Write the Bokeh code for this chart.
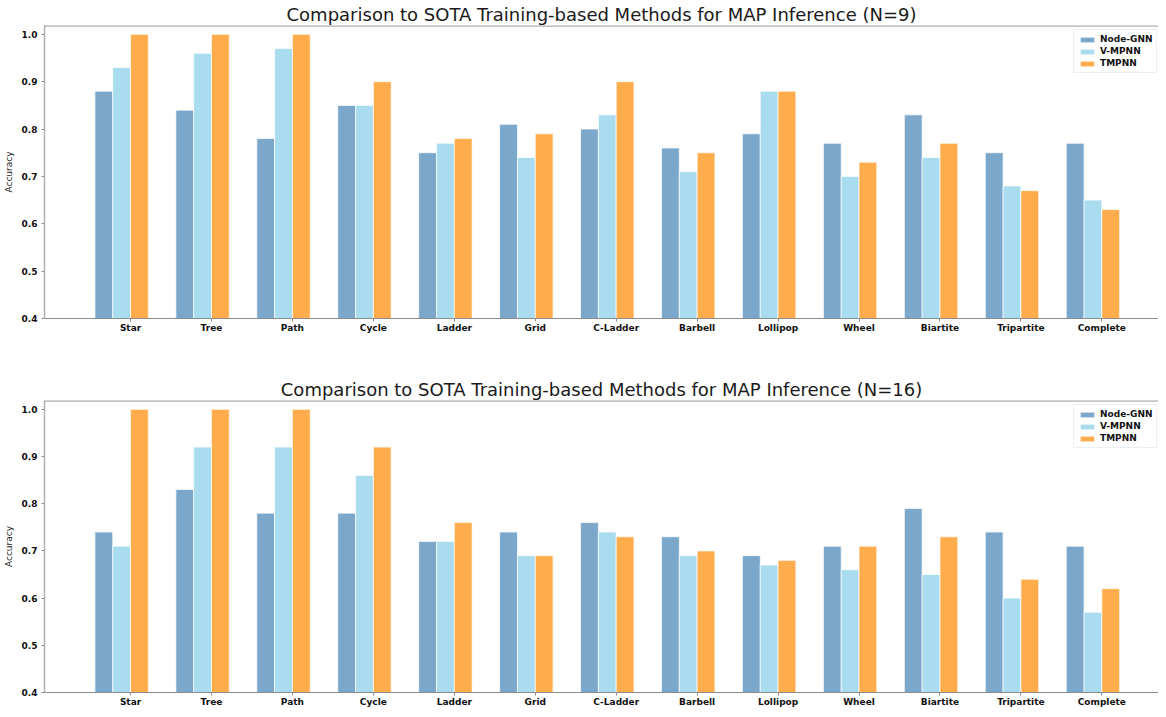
from bokeh.plotting import figure
from bokeh.layouts import column
from bokeh.models import ColumnDataSource, FixedTicker, Range1d, Span, Legend, LegendItem
from bokeh.embed import file_html
from bokeh.resources import INLINE

categories = ["Star", "Tree", "Path", "Cycle", "Ladder", "Grid", "C-Ladder",
              "Barbell", "Lollipop", "Wheel", "Biartite", "Tripartite", "Complete"]
series_names = ["Node-GNN", "V-MPNN", "TMPNN"]

n9_node_gnn = [0.88, 0.84, 0.78, 0.85, 0.75, 0.81, 0.80, 0.76, 0.79, 0.77, 0.83, 0.75, 0.77]
n9_v_mpnn = [0.93, 0.96, 0.97, 0.85, 0.77, 0.74, 0.83, 0.71, 0.88, 0.70, 0.74, 0.68, 0.65]
n9_tmpnn = [1.00, 1.00, 1.00, 0.90, 0.78, 0.79, 0.90, 0.75, 0.88, 0.73, 0.77, 0.67, 0.63]

n16_node_gnn = [0.74, 0.83, 0.78, 0.78, 0.72, 0.74, 0.76, 0.73, 0.69, 0.71, 0.79, 0.74, 0.71]
n16_v_mpnn = [0.71, 0.92, 0.92, 0.86, 0.72, 0.69, 0.74, 0.69, 0.67, 0.66, 0.65, 0.60, 0.57]
n16_tmpnn = [1.00, 1.00, 1.00, 0.92, 0.76, 0.69, 0.73, 0.70, 0.68, 0.71, 0.73, 0.64, 0.62]

y_ticks = [0.4, 0.5, 0.6, 0.7, 0.8, 0.9, 1.0]

COLORS = ["#7ba7ca", "#a8dcee", "#ffad4c"]
BAR_W = 0.22
OFFSETS = [-1.5 * BAR_W, -0.5 * BAR_W, 0.5 * BAR_W]
FONT = "DejaVu Sans"
Y_TOP = 1.0187


def make_plot(title, series, height, border_bottom, legend_y):
    p = figure(width=1158, height=height, output_backend="svg", toolbar_location=None,
               x_range=Range1d(-1.063, 12.70), y_range=Range1d(0.4, Y_TOP),
               min_border=0, min_border_left=0, min_border_right=0,
               min_border_top=0, min_border_bottom=border_bottom)
    p.title.text = title
    p.title.align = "center"
    p.title.text_font = FONT
    p.title.text_font_size = "18px"
    p.title.text_font_style = "normal"
    p.title.text_color = "#1a1a1a"
    p.title.standoff = 2

    idx = list(range(len(categories)))
    items = []
    for name, vals, off, col in zip(series_names, series, OFFSETS, COLORS):
        src = ColumnDataSource(dict(x=[i + off for i in idx], top=vals, cat=categories))
        r = p.vbar(x="x", top="top", bottom=0.4, width=BAR_W, source=src,
                   fill_color=col, line_color="white", line_width=1, line_alpha=0.7)
        items.append(LegendItem(label=name, renderers=[r]))

    p.xgrid.visible = False
    p.ygrid.visible = False
    p.outline_line_color = None
    p.add_layout(Span(location=Y_TOP - 0.001, dimension="width", line_color="#8c8c8c", line_width=1.2))

    xa = p.xaxis[0]
    xa.ticker = FixedTicker(ticks=idx)
    xa.major_label_overrides = {i: c for i, c in enumerate(categories)}
    xa.major_label_text_font = FONT
    xa.major_label_text_font_size = "9px"
    xa.major_label_text_font_style = "bold"
    xa.major_label_text_color = "#111111"
    xa.minor_tick_line_color = None
    xa.minor_tick_out = 0
    xa.major_tick_out = 3
    xa.major_tick_in = 0
    xa.major_tick_line_color = "#8c8c8c"
    xa.axis_line_color = "#8c8c8c"
    xa.axis_line_width = 1.2
    xa.major_label_standoff = 1
    xa.axis_label = None
    xa.axis_label_standoff = 0

    ya = p.yaxis[0]
    ya.ticker = FixedTicker(ticks=y_ticks)
    ya.major_label_overrides = {t: f"{t:.1f}" for t in y_ticks}
    ya.major_label_text_font = FONT
    ya.major_label_text_font_size = "9px"
    ya.major_label_text_font_style = "bold"
    ya.major_label_text_color = "#111111"
    ya.minor_tick_line_color = None
    ya.minor_tick_out = 0
    ya.major_tick_out = 3
    ya.major_tick_in = 0
    ya.major_tick_line_color = "#8c8c8c"
    ya.axis_line_color = "#b0b0b0"
    ya.axis_line_width = 1.5
    ya.major_label_standoff = 4
    ya.axis_label = "Accuracy"
    ya.axis_label_text_font = FONT
    ya.axis_label_text_font_size = "9px"
    ya.axis_label_text_font_style = "normal"
    ya.axis_label_text_color = "#222222"
    ya.axis_label_standoff = 5

    legend = Legend(items=items, location=(1029, legend_y))
    legend.label_text_font = FONT
    legend.label_text_font_size = "9px"
    legend.label_text_font_style = "bold"
    legend.label_text_color = "#111111"
    legend.glyph_width = 18
    legend.glyph_height = 7
    legend.label_height = 9
    legend.label_standoff = 4
    legend.spacing = 2
    legend.padding = 4
    legend.margin = 0
    legend.border_line_color = "#dddddd"
    legend.border_line_width = 1
    legend.background_fill_alpha = 0.9
    p.add_layout(legend)
    return p


p1 = make_plot("Comparison to SOTA Training-based Methods for MAP Inference (N=9)",
               [n9_node_gnn, n9_v_mpnn, n9_tmpnn], 375, 57, 245)
p2 = make_plot("Comparison to SOTA Training-based Methods for MAP Inference (N=16)",
               [n16_node_gnn, n16_v_mpnn, n16_tmpnn], 334, 0, 244)

layout = column(p1, p2, spacing=0)
open("out.html", "w").write(file_html(layout, INLINE))
